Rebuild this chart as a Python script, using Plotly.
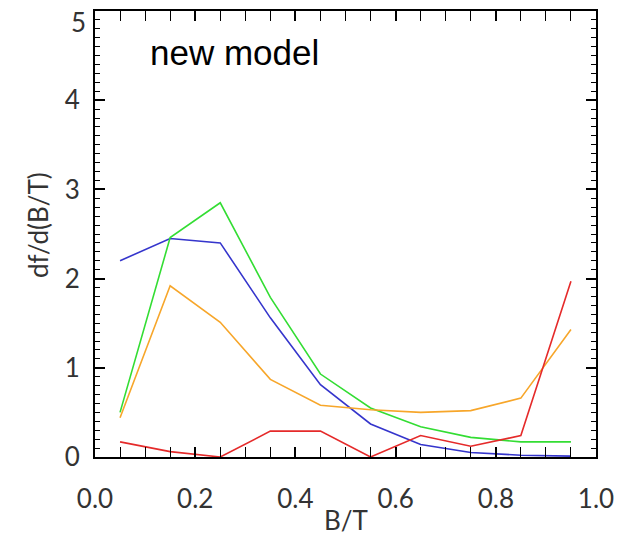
import plotly.graph_objects as go

x_vals = [0.05, 0.15, 0.25, 0.35, 0.45, 0.55, 0.65, 0.75, 0.85, 0.95]
blue_vals = [2.20, 2.45, 2.40, 1.56, 0.81, 0.37, 0.14, 0.05, 0.02, 0.01]
green_vals = [0.50, 2.46, 2.85, 1.79, 0.93, 0.55, 0.34, 0.22, 0.17, 0.17]
orange_vals = [0.44, 1.92, 1.51, 0.87, 0.58, 0.53, 0.50, 0.52, 0.66, 1.43]
red_vals = [0.17, 0.06, 0.0, 0.29, 0.29, 0.0, 0.24, 0.12, 0.24, 1.97]

y_tickvals = [0, 1, 2, 3, 4, 5]
y_ticktext = ["0", "1", "2", "3", "4", "5"]

series = [
    ("blue", blue_vals, "#3535cc"),
    ("green", green_vals, "#33dd33"),
    ("orange", orange_vals, "#f7a62a"),
    ("red", red_vals, "#e52a2a"),
]

fig = go.Figure()
for name, vals, col in series:
    fig.add_trace(go.Scatter(x=x_vals, y=vals, mode="lines", name=name,
                             line=dict(color=col, width=1.6)))
# empty trace so the secondary (label-only) axis is drawn
fig.add_trace(go.Scatter(x=[None], y=[None], yaxis="y2", mode="lines",
                         hoverinfo="skip", showlegend=False))

tickfont = dict(family="Lato, Open Sans, sans-serif", size=26, color="#333333")

fig.update_layout(
    width=615, height=532,
    margin=dict(l=87, r=27, t=3, b=83),
    plot_bgcolor="white", paper_bgcolor="white",
    showlegend=False,
    xaxis=dict(range=[0, 1], dtick=0.2, tickformat=".1f", automargin=False,
               ticks="inside", ticklen=10, tickwidth=1.5, tickcolor="black",
               minor=dict(dtick=0.05, ticks="inside", ticklen=5, tickwidth=1.2, tickcolor="black"),
               showline=True, linecolor="black", linewidth=2, mirror="allticks",
               showgrid=False, zeroline=False, tickfont=tickfont,
               ticklabelstandoff=18, ticklabeloverflow="allow"),
    yaxis=dict(range=[0, 5], tickvals=y_tickvals, ticktext=y_ticktext[:-1] + [""],
               automargin=False,
               ticks="inside", ticklen=10, tickwidth=1.5, tickcolor="black",
               minor=dict(dtick=0.1, ticks="inside", ticklen=5, tickwidth=1.2, tickcolor="black"),
               showline=True, linecolor="black", linewidth=2, mirror="allticks",
               showgrid=False, zeroline=False, tickfont=tickfont,
               ticklabelstandoff=8, ticklabeloverflow="allow"),
    yaxis2=dict(range=[0, 5], overlaying="y", side="left", automargin=False,
                tickvals=y_tickvals[-1:], ticktext=y_ticktext[-1:],
                ticks="", showline=False, showgrid=False, zeroline=False,
                tickfont=tickfont, ticklabelstandoff=8, ticklabelshift=12,
                ticklabeloverflow="allow"),
    annotations=[
        dict(text="new model", x=0.105, y=4.53, xref="x", yref="y",
             xanchor="left", yanchor="middle", showarrow=False,
             font=dict(family="Liberation Sans, Arial, sans-serif", size=35, color="black")),
        dict(text="B/T", x=0.5, y=-0.141, xref="paper", yref="paper",
             xanchor="center", yanchor="middle", showarrow=False, font=tickfont),
        dict(text="df/d(B/T)", x=-0.114, y=0.52, xref="paper", yref="paper",
             xanchor="center", yanchor="middle", showarrow=False, textangle=-90, font=tickfont),
    ],
)

fig.write_html("out.html")
